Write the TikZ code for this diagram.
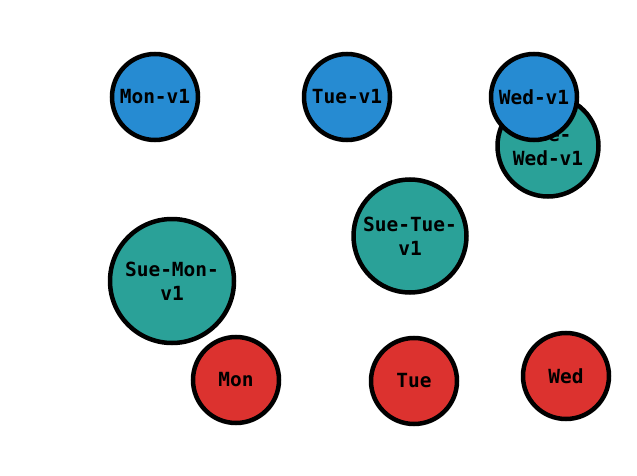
\documentclass[tikz,border=0pt]{standalone}
\usepackage{fontspec}
\setmonofont{DejaVu Sans Mono}
\definecolor{solblue}{HTML}{268BD2}
\definecolor{solcyan}{HTML}{2AA198}
\definecolor{solred}{HTML}{DC322F}
\begin{document}
\begin{tikzpicture}[x=1pt,y=-1pt,
    every node/.style={circle, draw=black, line width=4.5pt, inner sep=0pt, align=center,
        font=\ttfamily\bfseries\fontsize{19.5}{24}\selectfont},
    version/.style={fill=solblue, minimum size=86pt},
    merged/.style={fill=solcyan},
    day/.style={fill=solred, minimum size=86pt}]
    \useasboundingbox (0,0) rectangle (637,476);
    \node [merged, minimum size=101pt] (suewed) at (548,146) {Sue-\\Wed-v1};
    \node [version] (monv) at (155,97) {Mon-v1};
    \node [version] (tuev) at (347,97) {Tue-v1};
    \node [version] (wedv) at (534,97) {Wed-v1};
    \node [merged, minimum size=113pt] (suetue) at (410,236) {Sue-Tue-\\v1};
    \node [merged, minimum size=124pt] (suemon) at (172,281) {Sue-Mon-\\v1};
    \node [day] (mon) at (236,380) {Mon};
    \node [day] (tue) at (414,381) {Tue};
    \node [day] (wed) at (566,376) {Wed};
\end{tikzpicture}
\end{document}
